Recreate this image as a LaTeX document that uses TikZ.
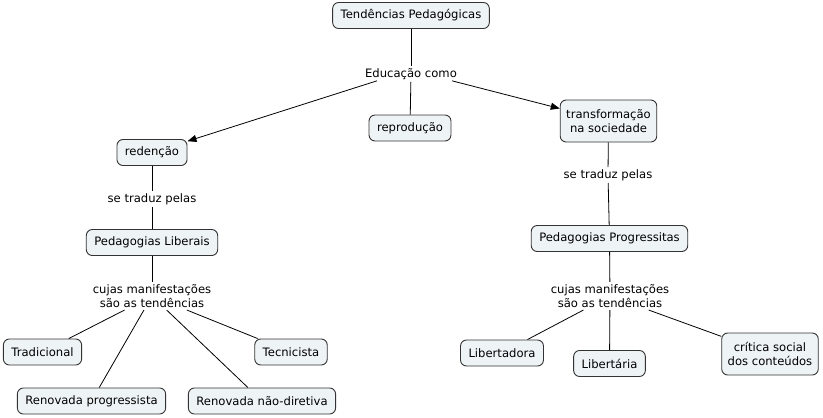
\documentclass[tikz,border=0pt]{standalone}
\usepackage{fontspec}
\setmainfont{DejaVu Sans}
\usetikzlibrary{arrows.meta}
\definecolor{boxfill}{HTML}{EEF3F5}
\definecolor{boxline}{HTML}{333333}
\tikzset{
  concept/.style={draw=boxline, line width=0.9pt, fill=boxfill, rounded corners=6pt,
    inner xsep=8pt, inner ysep=3pt, minimum height=26pt, align=center, font=\fontsize{11.6}{14.5}\selectfont},
  twoline/.style={minimum height=42pt, inner xsep=6pt},
  linklbl/.style={inner sep=2pt, align=center, font=\fontsize{11.6}{14.5}\selectfont},
  conn/.style={draw=black, line width=0.8pt},
  arr/.style={conn, -{Triangle[length=9pt,width=7pt]}}
}
\begin{document}
\begin{tikzpicture}[x=1pt,y=-1pt]
\useasboundingbox (0,0) rectangle (823,418);
% concepts
\node[concept] (tp) at (411,15.5) {Tendências Pedagógicas};
\node[linklbl] (edu) at (411,74) {Educação como};
\node[concept] (rep) at (410,128) {reprodução};
\node[concept] (red) at (152,152.5) {redenção};
\node[concept, twoline] (trans) at (608.5,121) {transformação\\na sociedade};
\node[linklbl] (stl) at (152,199) {se traduz pelas};
\node[concept] (pl) at (152,242.5) {Pedagogias Liberais};
\node[linklbl] (cml) at (152,296) {cujas manifestações\\são as tendências};
\node[concept] (trad) at (42.5,352) {Tradicional};
\node[concept] (tec) at (291,352) {Tecnicista};
\node[concept] (rp) at (91.5,401) {Renovada progressista};
\node[concept] (rnd) at (262,401) {Renovada não-diretiva};
\node[linklbl] (str) at (608,175) {se traduz pelas};
\node[concept] (pp) at (609.5,238.5) {Pedagogias Progressitas};
\node[linklbl] (cmr) at (610,296) {cujas manifestações\\são as tendências};
\node[concept] (lib) at (502,353) {Libertadora};
\node[concept] (lba) at (609.5,363.5) {Libertária};
\node[concept, twoline] (crit) at (770,354) {crítica social\\dos conteúdos};
% connectors
\draw[conn] (tp) -- (edu);
\draw[conn] (edu) -- (rep);
\draw[arr] (edu.south west) ++(14,-1) coordinate (el) (el) -- (red);
\draw[arr] (edu.south east) ++(-7,-1) coordinate (er) (er) -- (trans);
\draw[conn] (red) -- (stl);
\draw[conn] (stl) -- (pl);
\draw[conn] (pl) -- (cml);
\draw[conn] (cml) -- (trad);
\draw[conn] (cml) -- (tec);
\draw[conn] (cml) -- (rp);
\draw[conn] (cml) -- (rnd);
\draw[conn] (trans) -- (str);
\draw[conn] (str) -- (pp);
\draw[conn] (pp) -- (cmr);
\draw[conn] (cmr) -- (lib);
\draw[conn] (cmr) -- (lba);
\draw[conn] (cmr) -- (crit);
\end{tikzpicture}
\end{document}
